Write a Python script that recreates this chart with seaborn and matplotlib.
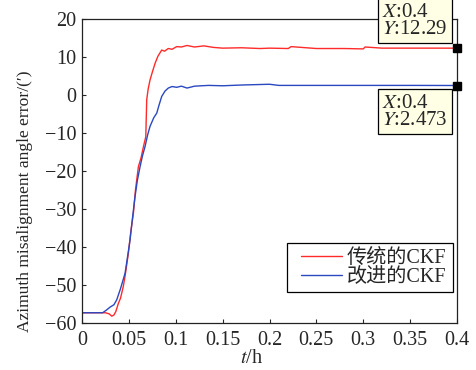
import matplotlib
matplotlib.use("Agg")
import matplotlib.pyplot as plt
from matplotlib.patches import Rectangle
import seaborn as sns
import pandas as pd

# data
t_red = [0.0, 0.015, 0.025, 0.029, 0.0317, 0.034, 0.036, 0.0388, 0.041, 0.044, 0.046,
         0.0494, 0.052, 0.0548, 0.057, 0.0601, 0.063, 0.0655, 0.068, 0.069, 0.0705,
         0.0725, 0.075, 0.0779, 0.081, 0.085, 0.088, 0.092, 0.096, 0.101, 0.106,
         0.112, 0.12, 0.13, 0.14, 0.15, 0.17, 0.19, 0.2, 0.22, 0.223, 0.25, 0.28,
         0.3, 0.302, 0.32, 0.35, 0.38, 0.4]
y_red = [-57.3, -57.3, -57.3, -57.6, -58.2, -57.9, -57.0, -54.8, -53.5, -50.4, -47.5,
         -41.7, -36.0, -31.1, -25.0, -18.9, -16.5, -13.6, -11.0, -1.3, 1.5,
         3.9, 6.0, 8.3, 10.2, 11.8, 11.5, 12.2, 12.0, 12.7, 12.6,
         13.0, 12.6, 12.9, 12.5, 12.3, 12.4, 12.2, 12.3, 12.2, 12.7, 12.2, 12.2,
         12.1, 12.6, 12.3, 12.3, 12.3, 12.29]

t_blue = [0.0, 0.015, 0.022, 0.026, 0.03, 0.034, 0.037, 0.041, 0.0459, 0.048,
          0.0512, 0.054, 0.0565, 0.059, 0.0619, 0.0645, 0.0672, 0.07, 0.0725,
          0.0765, 0.0797, 0.082, 0.085, 0.0885, 0.092, 0.096, 0.101, 0.106, 0.112,
          0.12, 0.135, 0.15, 0.17, 0.2, 0.21, 0.25, 0.3, 0.35, 0.4]
y_blue = [-57.3, -57.3, -57.3, -56.6, -55.8, -55.2, -53.9, -51.0, -46.9, -43.5,
          -38.2, -32.0, -26.8, -22.5, -18.9, -16.0, -13.6, -10.5, -8.3,
          -6.0, -4.8, -2.8, -0.4, 1.0, 1.8, 2.2, 2.0, 2.3, 1.8,
          2.3, 2.5, 2.4, 2.6, 2.8, 2.5, 2.5, 2.5, 2.5, 2.473]

label_red = "传统的CKF"
label_blue = "改进的CKF"
x_ticks = [0, 0.05, 0.1, 0.15, 0.2, 0.25, 0.3, 0.35, 0.4]
x_tick_labels = ["0", "0.05", "0.1", "0.15", "0.2", "0.25", "0.3", "0.35", "0.4"]
y_ticks = [-60, -50, -40, -30, -20, -10, 0, 10, 20]

sns.set_style("ticks")
plt.rcParams["font.family"] = ["Liberation Serif", "Noto Sans CJK SC"]
plt.rcParams["mathtext.fontset"] = "stix"
plt.rcParams["axes.unicode_minus"] = True

fig = plt.figure(figsize=(4.77, 3.70), dpi=100)
ax = fig.add_axes([0.172, 0.127, 0.786, 0.822])

df_red = pd.DataFrame({"t": t_red, "err": y_red})
df_blue = pd.DataFrame({"t": t_blue, "err": y_blue})
sns.lineplot(data=df_red, x="t", y="err", ax=ax, color="#ff2a2a", lw=1.0,
             label=label_red, sort=False)
sns.lineplot(data=df_blue, x="t", y="err", ax=ax, color="#2a48c0", lw=1.0,
             label=label_blue, sort=False)

ax.set_xlim(0, 0.4)
ax.set_ylim(-60, 20)
ax.set_xticks(x_ticks)
ax.set_xticklabels(x_tick_labels)
ax.set_yticks(y_ticks)
ax.tick_params(direction="in", length=3, labelsize=14.5, width=0.8)
ax.tick_params(axis="x", pad=6)
ax.tick_params(axis="y", pad=4)
for s in ax.spines.values():
    s.set_linewidth(0.9)
    s.set_color("#222222")

ax.set_xlabel("$t$/h", fontsize=14.5)
ax.xaxis.set_label_coords(0.453, -0.085)
ax.set_ylabel("Azimuth misalignment angle error/(′)", fontsize=12.6)
ax.yaxis.set_label_coords(-0.13, 0.40)

# legend without its own frame, box drawn separately (wider left margin)
leg = ax.legend(loc="lower right", fontsize=14.5, frameon=False,
                handlelength=2.0, borderpad=0.2, labelspacing=0.0,
                handletextpad=0.25, borderaxespad=0,
                bbox_to_anchor=(0.982, 0.105))
ax.add_patch(Rectangle((0.547, 0.102), 0.443, 0.161, transform=ax.transAxes,
                       fill=False, ec="black", lw=0.9, zorder=4))

# data tips
for yv, txt, off, va in [(y_red[-1], "$X$:0.4\n$Y$:12.29", (-75, 9), "bottom"),
                         (y_blue[-1], "$X$:0.4\n$Y$:2.473", (-75, -8), "top")]:
    ax.plot([0.4], [yv], marker="s", color="black", ms=6, clip_on=False, zorder=5)
    ax.annotate(txt, xy=(0.4, yv), xytext=off, textcoords="offset pixels",
                ha="left", va=va, fontsize=15, linespacing=0.9,
                annotation_clip=False,
                bbox=dict(boxstyle="square,pad=0.2", fc="#ffffe6", ec="black", lw=0.9))

fig.savefig("out.png", dpi=100)
